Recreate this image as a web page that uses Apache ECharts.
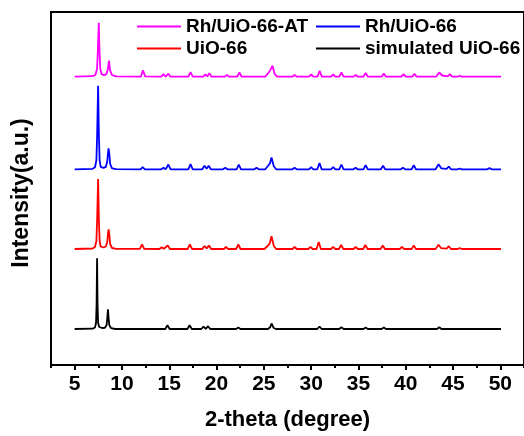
<!DOCTYPE html>
<html>
<head>
<meta charset="utf-8">
<script src="https://cdn.jsdelivr.net/npm/echarts@6/dist/echarts.min.js"></script>
<style>html,body{margin:0;padding:0;background:#fff}#c{width:524px;height:436px}</style>
</head>
<body>
<div id="c"></div>
<script>
const seriesNames = ['Rh/UiO-66-AT', 'Rh/UiO-66', 'UiO-66', 'simulated UiO-66'];
const seriesColors = ['#FF00FF', '#0000FF', '#FF0000', '#000000'];
const offsets = [2883, 1957, 1160, 360];
const xMajorTicks = [5, 10, 15, 20, 25, 30, 35, 40, 45, 50];
const xMinorTicks = [2.5, 7.5, 12.5, 17.5, 22.5, 27.5, 32.5, 37.5, 42.5, 47.5, 52.5];

const rhUiO66AT = [[5,0],[6.9,5],[7.2,20],[7.37,80],[7.45,250],[7.55,540],[7.63,250],[7.71,80],[7.85,25],[8.1,15],[8.35,25],[8.5,70],[8.63,160],[8.75,60],[8.95,15],[9.4,3],[12.0,0],
[12.22,65],[12.45,3],
[14.16,0],[14.39,25],[14.62,0],[14.91,30],[15.14,0],
[17.02,0],[17.25,45],[17.48,0],
[18.59,0],[18.82,24],[19.03,2],[19.24,35],[19.47,0],
[20.86,0],[21.09,18],[21.32,0],
[22.19,0],[22.42,42],[22.65,0],
[25.15,0],[25.45,35],[25.65,60],[25.91,110],[26.15,25],[26.4,0],
[28.02,0],[28.25,18],[28.48,0],
[29.77,0],[30.0,22],[30.23,0],
[30.67,0],[30.9,58],[31.13,0],
[32.1,0],[32.33,22],[32.56,0],
[32.97,0],[33.2,42],[33.43,0],
[34.47,0],[34.7,18],[34.93,0],
[35.53,0],[35.76,38],[35.99,0],
[37.45,0],[37.68,32],[37.91,0],
[39.54,0],[39.77,25],[40.0,0],
[40.69,0],[40.92,30],[41.15,0],
[43.2,0],[43.54,42],[43.85,12],[44.43,4],[44.66,25],[44.89,0],
[45.47,0],[45.7,10],[45.93,0],
[50.07,0]];

const rhUiO66 = [[5,0],[6.9,5],[7.15,20],[7.3,90],[7.38,350],[7.48,836],[7.56,350],[7.64,90],[7.75,25],[8.05,15],[8.3,25],[8.45,80],[8.52,160],[8.59,210],[8.66,160],[8.75,55],[8.95,10],[9.4,2],
[11.96,0],[12.19,22],[12.42,0],
[14.16,0],[14.39,15],[14.62,0],[14.91,48],[15.14,0],
[17.02,0],[17.25,52],[17.48,0],
[18.49,0],[18.72,35],[18.95,6],[19.17,35],[19.4,0],
[20.69,0],[20.92,15],[21.15,0],
[22.12,0],[22.35,48],[22.58,0],
[24.0,0],[24.23,15],[24.46,0],
[25.15,0],[25.45,35],[25.65,60],[25.81,118],[26.05,30],[26.3,0],
[28.02,0],[28.25,15],[28.48,0],
[29.77,0],[30.0,22],[30.23,0],
[30.65,0],[30.88,62],[31.11,0],
[32.1,0],[32.33,22],[32.56,0],
[32.97,0],[33.2,48],[33.43,0],
[34.47,0],[34.7,15],[34.93,0],
[35.53,0],[35.76,42],[35.99,0],
[37.37,0],[37.6,35],[37.83,0],
[39.47,0],[39.7,15],[39.93,0],
[40.62,0],[40.85,40],[41.08,0],
[43.15,0],[43.47,50],[43.75,10],[44.32,4],[44.55,28],[44.78,0],
[45.47,0],[45.7,8],[45.93,0],
[48.62,0],[48.85,12],[49.08,0],
[50.07,0]];

const uiO66 = [[5,0],[6.9,5],[7.15,20],[7.3,80],[7.38,300],[7.48,700],[7.56,300],[7.64,80],[7.75,25],[8.05,15],[8.3,25],[8.45,70],[8.52,150],[8.59,197],[8.66,150],[8.75,50],[8.95,10],[9.4,2],[11.89,2],
[12.12,45],[12.35,2],
[13.97,0],[14.2,18],[14.43,2],[14.84,35],[15.07,0],
[16.95,0],[17.18,45],[17.41,0],
[18.49,0],[18.72,30],[18.96,6],[19.2,35],[19.43,0],
[20.77,0],[21.0,20],[21.23,0],
[22.07,0],[22.3,45],[22.53,0],
[25.05,0],[25.4,30],[25.62,55],[25.81,128],[26.05,30],[26.3,0],
[28.02,0],[28.25,20],[28.48,0],
[29.7,0],[29.93,22],[30.16,0],
[30.57,0],[30.8,70],[31.03,0],
[32.1,0],[32.33,22],[32.56,0],
[32.94,0],[33.17,42],[33.4,0],
[34.47,0],[34.7,20],[34.93,0],
[35.5,0],[35.73,40],[35.96,0],
[37.34,0],[37.57,35],[37.8,0],
[39.37,0],[39.6,22],[39.83,0],
[40.62,0],[40.85,35],[41.08,0],
[43.15,0],[43.47,42],[43.75,8],[44.32,4],[44.55,28],[44.78,0],
[45.47,0],[45.7,8],[45.93,0],
[50.07,0]];

const simulatedUiO66 = [[5,0],[6.9,3],[7.15,15],[7.26,60],[7.32,250],[7.37,707],[7.42,250],[7.48,60],[7.6,20],[7.9,10],[8.2,12],[8.38,40],[8.46,120],[8.52,197],[8.58,120],[8.66,40],[8.85,8],[9.3,0],
[14.58,0],[14.81,38],[15.04,0],
[16.92,0],[17.15,38],[17.38,0],
[18.39,0],[18.62,24],[18.86,2],[19.1,28],[19.33,0],
[22.07,0],[22.3,14],[22.53,0],
[25.45,0],[25.68,20],[25.81,55],[26.04,10],[26.27,0],
[30.65,0],[30.88,25],[31.11,0],
[32.97,0],[33.2,18],[33.43,0],
[35.53,0],[35.76,14],[35.99,0],
[37.45,0],[37.68,14],[37.91,0],
[43.31,0],[43.54,18],[43.77,0],
[50.07,0]];

const seriesData = [rhUiO66AT, rhUiO66, uiO66, simulatedUiO66];
const FONT = "'Liberation Sans', Arial, sans-serif";

const chart = echarts.init(document.getElementById('c'), null, {renderer: 'canvas'});
const legendCommon = {
  orient: 'vertical', top: 17, padding: 0, itemWidth: 44, itemHeight: 2, icon: 'rect', itemGap: 3,
  textStyle: {fontFamily: FONT, fontSize: 19, fontWeight: 'bold', color: '#000', lineHeight: 19}
};
chart.setOption({
  animation: false,
  backgroundColor: '#fff',
  grid: {left: 51, top: 12, right: -4, bottom: 71, show: true, borderColor: '#000', borderWidth: 2},
  legend: [
    Object.assign({left: 137, data: [seriesNames[0], seriesNames[2]]}, legendCommon),
    Object.assign({left: 316, data: [seriesNames[1], seriesNames[3]]}, legendCommon)
  ],
  xAxis: [{
    type: 'value', min: 2.5, max: 52.5, position: 'bottom',
    axisLine: {show: true, lineStyle: {color: '#000', width: 2}},
    axisTick: {show: true, customValues: xMajorTicks, length: 5, lineStyle: {color: '#000', width: 2}},
    axisLabel: {customValues: xMajorTicks, margin: 9, fontFamily: FONT, fontSize: 21, fontWeight: 'bold', color: '#000'},
    splitLine: {show: false},
    name: '2-theta (degree)', nameLocation: 'middle', nameGap: 44,
    nameTextStyle: {fontFamily: FONT, fontSize: 22, fontWeight: 'bold', color: '#000'}
  }, {
    type: 'value', min: 2.5, max: 52.5, position: 'bottom',
    axisLine: {show: false},
    axisTick: {show: true, customValues: xMinorTicks, length: 3, lineStyle: {color: '#000', width: 2}},
    axisLabel: {show: false},
    splitLine: {show: false}
  }],
  yAxis: {
    type: 'value', min: 0, max: 3530,
    axisLine: {show: true, lineStyle: {color: '#000', width: 2}},
    axisTick: {show: false}, axisLabel: {show: false}, splitLine: {show: false},
    name: 'Intensity(a.u.)', nameLocation: 'middle', nameGap: 18,
    nameTextStyle: {fontFamily: FONT, fontSize: 23, fontWeight: 'bold', color: '#000', padding: [0, 9, 0, 0]}
  },
  series: seriesNames.map((n, i) => ({
    name: n, type: 'line', xAxisIndex: 0, showSymbol: false, symbol: 'none',
    color: seriesColors[i],
    lineStyle: {color: seriesColors[i], width: 1.8},
    data: seriesData[i].map(p => [p[0], p[1] + offsets[i]])
  }))
});
</script>
</body>
</html>
